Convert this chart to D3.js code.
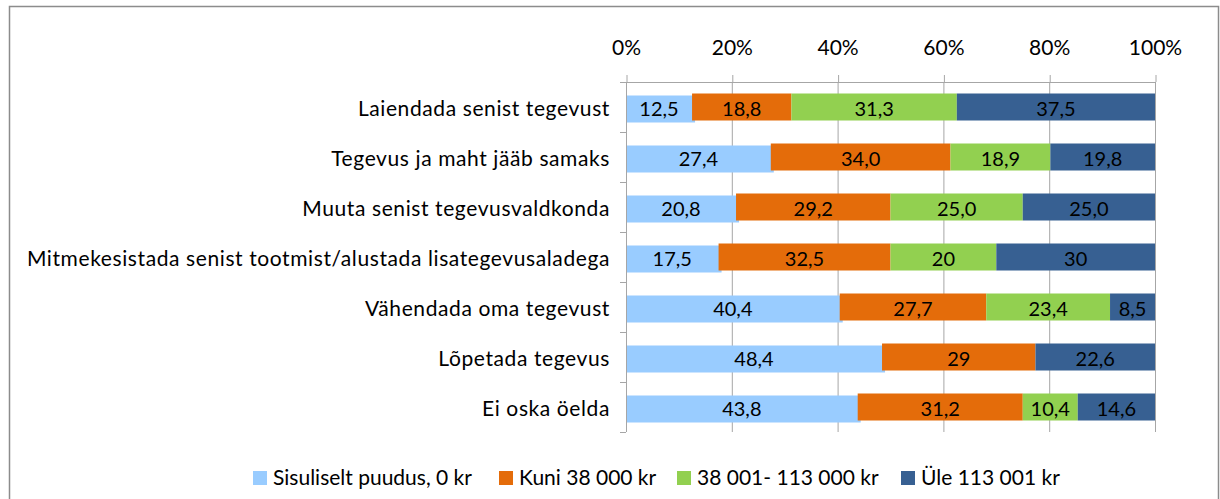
<!DOCTYPE html>
<html>
<head>
<meta charset="utf-8">
<script src="https://cdn.jsdelivr.net/npm/d3@7"></script>
<style>
  body { margin: 0; background: #fff; }
  text { font-family: Lato, "Open Sans", sans-serif; fill: #000; }
</style>
</head>
<body>
<div class="plot-1"></div>
<script>
// kategooriad (ylevalt alla)
var categories = [
  'Laiendada senist tegevust',
  'Tegevus ja maht jääb samaks',
  'Muuta senist tegevusvaldkonda',
  'Mitmekesistada senist tootmist/alustada lisategevusaladega',
  'Vähendada oma tegevust',
  'Lõpetada tegevus',
  'Ei oska öelda'
];

// seeriad
var seriesNames = ['Sisuliselt puudus, 0 kr', 'Kuni 38 000 kr', '38 001- 113 000 kr', 'Üle 113 001 kr'];
var sisuliseltPuudus = [12.5, 27.4, 20.8, 17.5, 40.4, 48.4, 43.8];
var kuni38000 = [18.8, 34.0, 29.2, 32.5, 27.7, 29, 31.2];
var vahemik38001 = [31.3, 18.9, 25.0, 20, 23.4, 0, 10.4];
var ule113001 = [37.5, 19.8, 25.0, 30, 8.5, 22.6, 14.6];
// siltide tekstid nagu originaalis
var labelText = [
  ['12,5', '27,4', '20,8', '17,5', '40,4', '48,4', '43,8'],
  ['18,8', '34,0', '29,2', '32,5', '27,7', '29', '31,2'],
  ['31,3', '18,9', '25,0', '20', '23,4', '', '10,4'],
  ['37,5', '19,8', '25,0', '30', '8,5', '22,6', '14,6']
];
var tickValues = [0, 0.2, 0.4, 0.6, 0.8, 1];

var colors = ['#99ccff', '#e46c0a', '#92d050', '#376092'];

var W = 1220, H = 499;
var margin = {top: 82, right: 65, bottom: 67, left: 626};
var width = 1155 - margin.left;
var height = 432 - margin.top;

var svg = d3.select('.plot-1').append('svg')
  .attr('width', W).attr('height', H);

// raam
svg.append('rect')
  .attr('x', 9.5).attr('y', 6.5)
  .attr('width', 1209).attr('height', 500)
  .attr('fill', 'none').attr('stroke', '#8c8c8c').attr('stroke-width', 1.5);

var g = svg.append('g').attr('transform', 'translate(' + margin.left + ',' + margin.top + ')');

var xScale = d3.scaleLinear().domain([0, 1]).range([0, width]);
var yScale = d3.scaleBand().domain(categories).range([0, height]).paddingInner(0.46).paddingOuter(0.23);

// ruudustik
g.selectAll('.grid').data(tickValues.slice(1)).enter().append('line')
  .attr('x1', function(d){ return xScale(d) + 0.5; })
  .attr('x2', function(d){ return xScale(d) + 0.5; })
  .attr('y1', 0).attr('y2', height)
  .attr('stroke', '#a6a6a6').attr('stroke-width', 1);

// andmed virnadeks
var rows = categories.map(function(c, i){
  return {cat: c, v: [sisuliseltPuudus[i], kuni38000[i], vahemik38001[i], ule113001[i]], i: i};
});
var segs = [];
rows.forEach(function(r){
  var total = d3.sum(r.v), acc = 0;
  r.v.forEach(function(v, s){
    segs.push({cat: r.cat, s: s, x0: acc / total, x1: (acc + v) / total, label: labelText[s][r.i]});
    acc += v;
  });
});

var bh = yScale.bandwidth();
// heledad sinised tulbad on originaalis veidi nihkes, joonistan esimesena
g.selectAll('.seg').data(segs.filter(function(d){ return d.x1 > d.x0; }).sort(function(a, b){ return b.s === 0 ? 1 : (a.s === 0 ? -1 : 0); }))
  .enter().append('rect')
  .attr('x', function(d){ return xScale(d.x0); })
  .attr('y', function(d){ return yScale(d.cat) + (d.s === 0 ? 2 : 0); })
  .attr('width', function(d){ return xScale(d.x1) - xScale(d.x0) + (d.s === 0 ? 3 : 0); })
  .attr('height', bh)
  .attr('fill', function(d){ return colors[d.s]; });

g.selectAll('.lbl').data(segs.filter(function(d){ return d.label !== ''; }))
  .enter().append('text')
  .attr('x', function(d){ return xScale((d.x0 + d.x1) / 2); })
  .attr('y', function(d){ return yScale(d.cat) + bh / 2 + 1; })
  .attr('text-anchor', 'middle').attr('dominant-baseline', 'central')
  .style('font-size', '20px')
  .text(function(d){ return d.label; });

// x telg ylal
var xAxis = d3.axisTop(xScale).tickValues(tickValues).tickSize(7).tickFormat(d3.format('.0%'));
var gx = g.append('g').call(xAxis);
gx.select('.domain').attr('d', 'M-6,0.5H' + (width + 0.5)).attr('stroke', '#a6a6a6');
gx.selectAll('.tick line').attr('stroke', '#a6a6a6').attr('transform', 'translate(0.5,0)');
gx.selectAll('.tick text').attr('y', -27).style('font-size', '21px').style('font-family', 'Lato, sans-serif');

// y telg
var gy = g.append('g');
gy.append('line').attr('x1', 0.5).attr('x2', 0.5).attr('y1', 0).attr('y2', height).attr('stroke', '#a6a6a6');
var step = yScale.step();
gy.selectAll('.yt').data(d3.range(categories.length + 1)).enter().append('line')
  .attr('x1', -6).attr('x2', 0)
  .attr('y1', function(d){ return Math.round(d * step) + 0.5; })
  .attr('y2', function(d){ return Math.round(d * step) + 0.5; })
  .attr('stroke', '#a6a6a6');
gy.selectAll('.yl').data(categories).enter().append('text')
  .attr('x', -16)
  .attr('y', function(d){ return yScale(d) + bh / 2; })
  .attr('text-anchor', 'end').attr('dominant-baseline', 'central')
  .style('font-size', '21px').style('letter-spacing', '0.6px')
  .text(function(d){ return d; });

// legend
var legX = [253, 499, 677, 901];
var leg = svg.append('g').selectAll('g').data(seriesNames).enter().append('g')
  .attr('transform', function(d, i){ return 'translate(' + legX[i] + ',471)'; });
leg.append('rect').attr('width', 14).attr('height', 14).attr('fill', function(d, i){ return colors[i]; });
leg.append('text').attr('x', 20).attr('y', 14)
  .style('font-size', '21px').text(function(d){ return d; });
</script>
</body>
</html>
